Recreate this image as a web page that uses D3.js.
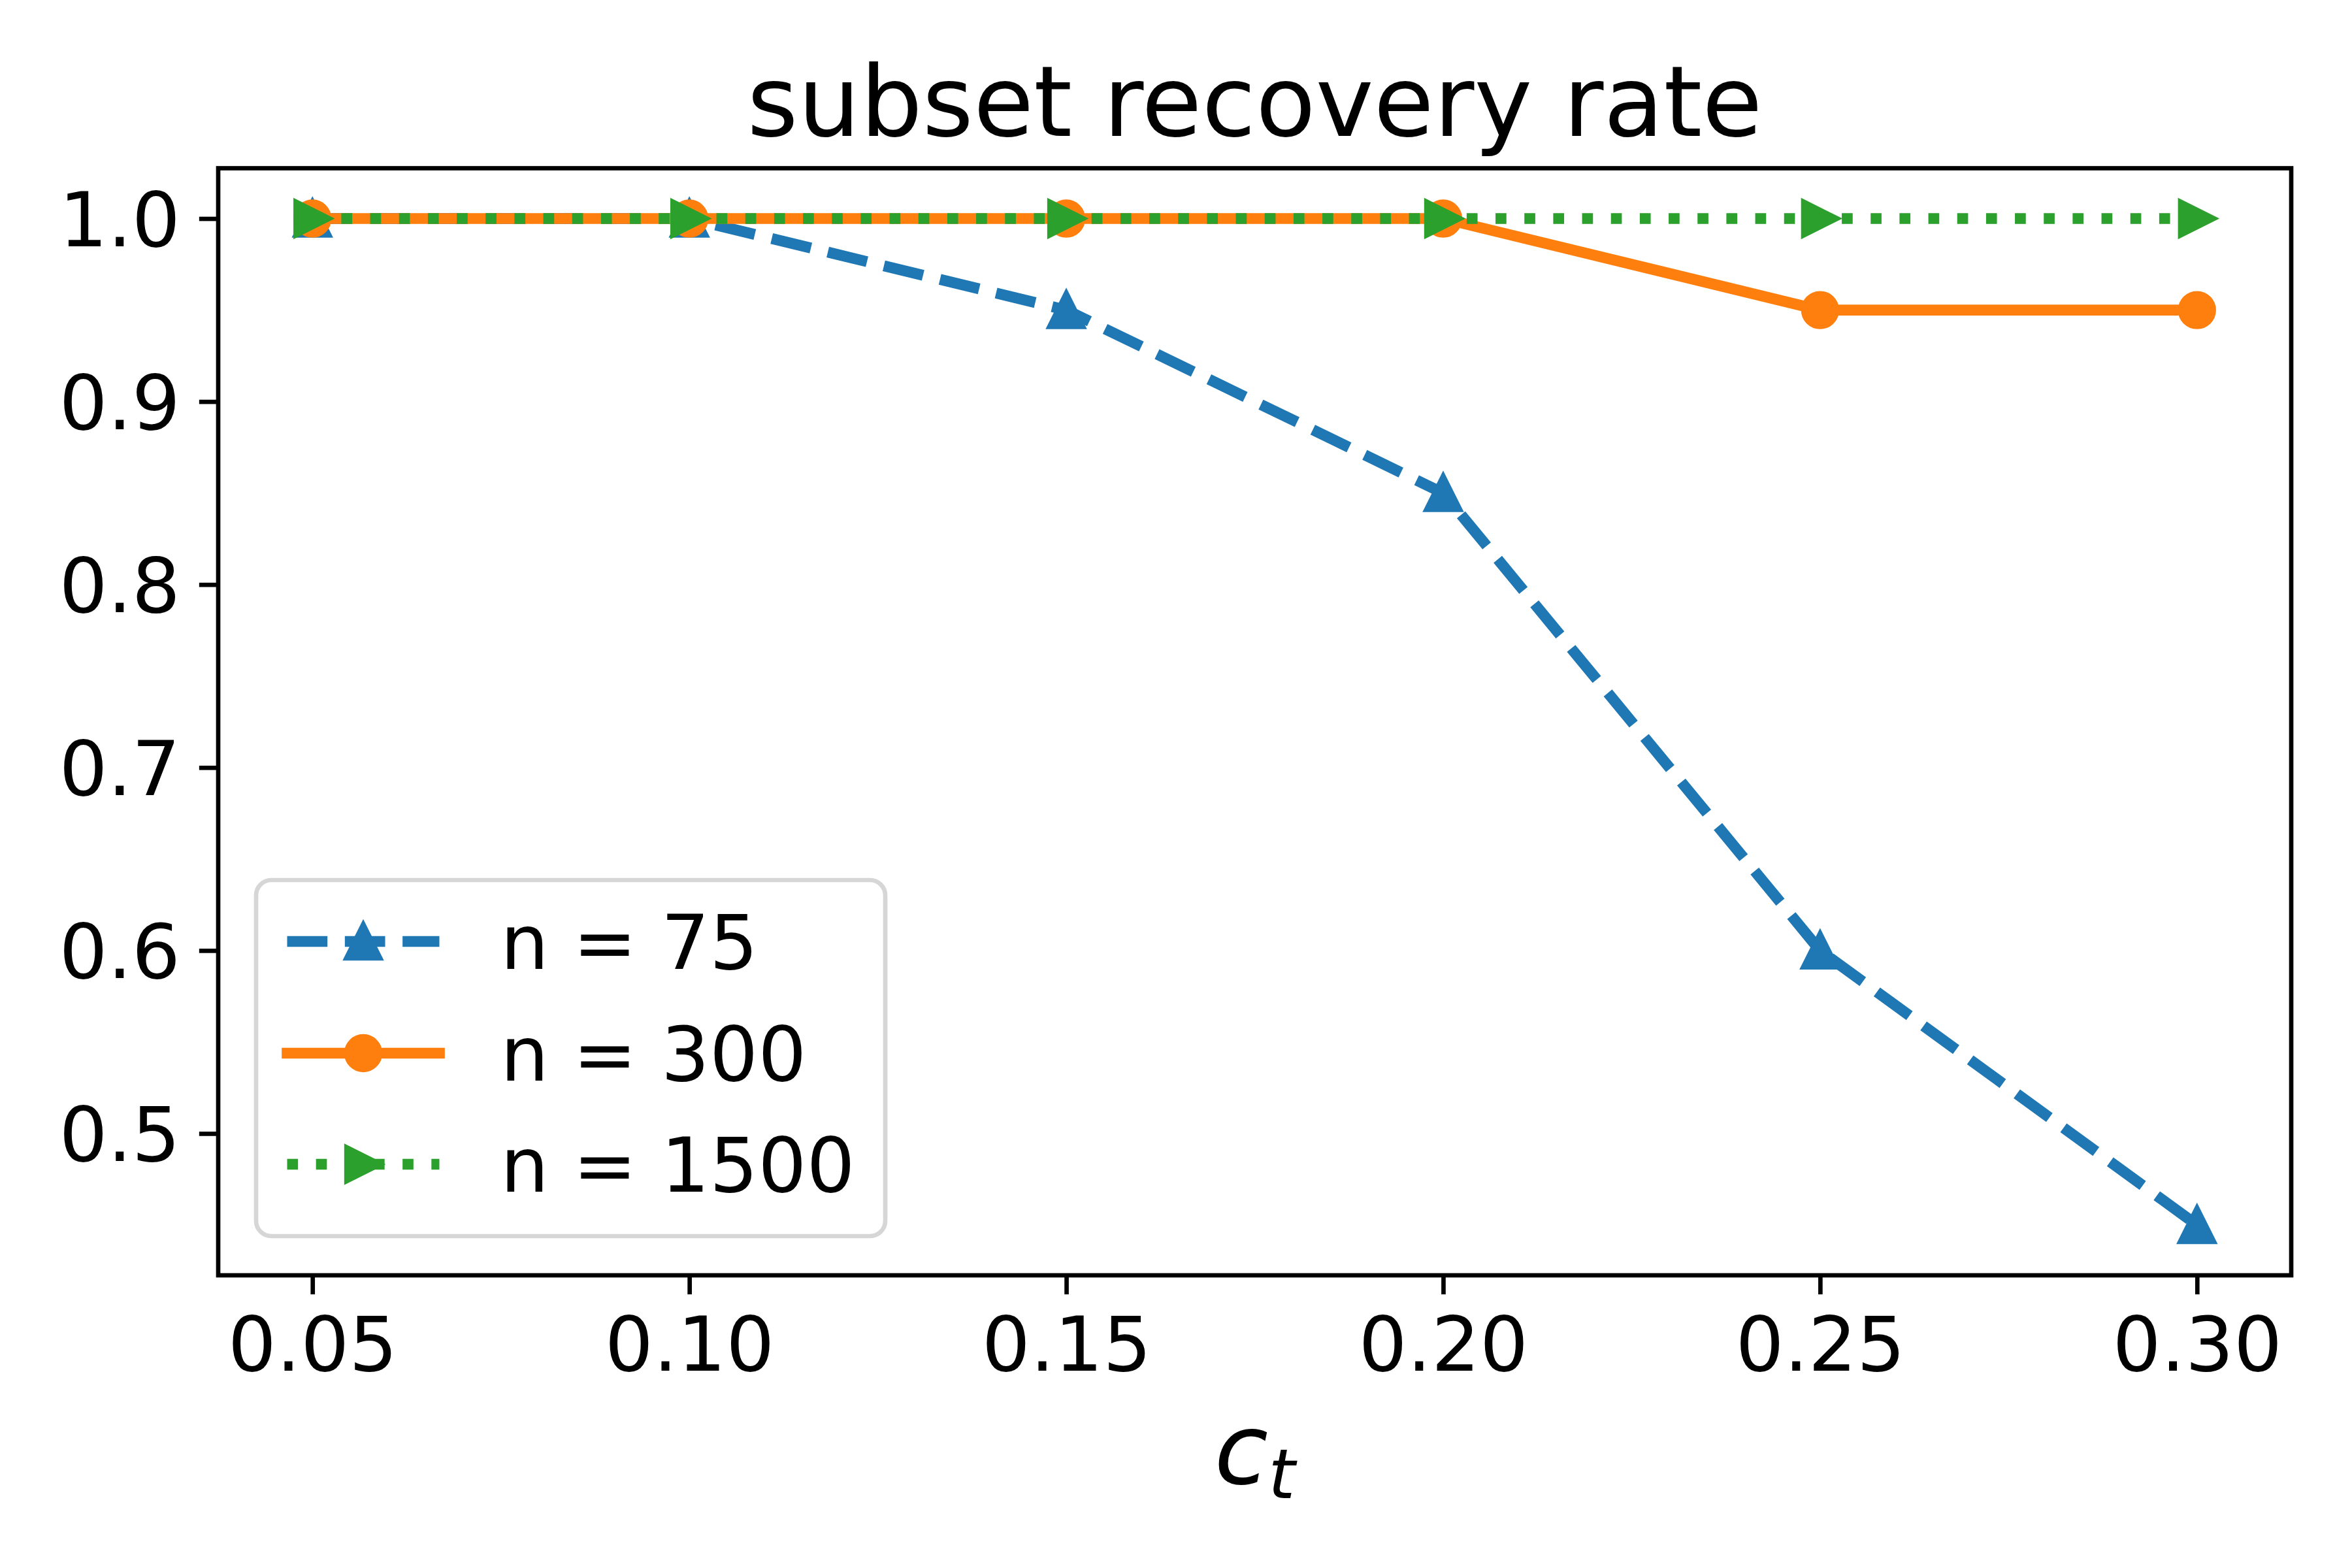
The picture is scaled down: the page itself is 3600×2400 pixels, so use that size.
<!DOCTYPE html>
<html>
<head>
<meta charset="utf-8">
<script src="https://cdn.jsdelivr.net/npm/d3@7"></script>
<style>
  html, body { margin: 0; padding: 0; background: #ffffff; }
  svg { display: block; }
  text { font-family: "DejaVu Sans", sans-serif; fill: #000; }
</style>
</head>
<body>
<svg id="chart" width="3600" height="2400"></svg>
<script>
// ---- data ----
const ctValues = [0.05, 0.10, 0.15, 0.20, 0.25, 0.30];
const rateN75 = [1.0, 1.0, 0.95, 0.85, 0.60, 0.45];
const rateN300 = [1.0, 1.0, 1.0, 1.0, 0.95, 0.95];
const rateN1500 = [1.0, 1.0, 1.0, 1.0, 1.0, 1.0];
const seriesLabels = ["n = 75", "n = 300", "n = 1500"];
const xTickLabels = ["0.05", "0.10", "0.15", "0.20", "0.25", "0.30"];
const yTickValues = [0.5, 0.6, 0.7, 0.8, 0.9, 1.0];
const yTickLabels = ["0.5", "0.6", "0.7", "0.8", "0.9", "1.0"];
const titleText = "subset recovery rate";

// ---- layout ----
const W = 3600, H = 2400;
const L = 334, R = 3507, T = 257.5, B = 1952;
const PT = 600 / 72; // px per point
const tickFont = 14 * PT;
const lw = 2 * PT;
const ms = 6 * PT;
const mew = 1 * PT;

const svg = d3.select("#chart");
svg.append("rect").attr("width", W).attr("height", H).attr("fill", "#fff");

const x = d3.scaleLinear().domain([0.0375, 0.3125]).range([L, R]);
const y = d3.scaleLinear().domain([0.4225, 1.0275]).range([B, T]);

const styles = [
  { color: "#1f77b4", dash: [3.7 * lw, 1.6 * lw], marker: "tri_up", cap: "butt" },
  { color: "#ff7f0e", dash: null, marker: "circle", cap: "square" },
  { color: "#2ca02c", dash: [1 * lw, 1.65 * lw], marker: "tri_right", cap: "butt" }
];
const seriesData = [rateN75, rateN300, rateN1500];

function markerPath(kind) {
  const h = ms / 2;
  if (kind === "tri_up") return `M0,${-h}L${-h},${h}L${h},${h}Z`;
  if (kind === "tri_right") return `M${h},0L${-h},${-h}L${-h},${h}Z`;
  return d3.symbol().type(d3.symbolCircle).size(Math.PI * h * h)();
}

// ---- axes (ticks) ----
const xAxis = d3.axisBottom(x).tickValues(ctValues)
  .tickFormat((d, i) => xTickLabels[i]).tickSize(3.5 * PT).tickPadding(3.5 * PT);
const gx = svg.append("g").attr("transform", `translate(0,${B})`).call(xAxis);
gx.select(".domain").remove();
gx.selectAll(".tick line").attr("stroke", "#000").attr("stroke-width", 0.8 * PT);
gx.selectAll(".tick text").attr("font-size", tickFont).attr("font-family", "DejaVu Sans")
  .attr("fill", "#000").attr("dy", null).attr("y", 2098 - B);

const yAxis = d3.axisLeft(y).tickValues(yTickValues)
  .tickFormat((d, i) => yTickLabels[i]).tickSize(3.5 * PT).tickPadding(3.5 * PT);
const gy = svg.append("g").attr("transform", `translate(${L},0)`).call(yAxis);
gy.select(".domain").remove();
gy.selectAll(".tick line").attr("stroke", "#000").attr("stroke-width", 0.8 * PT);
gy.selectAll(".tick text").attr("font-size", tickFont).attr("font-family", "DejaVu Sans")
  .attr("fill", "#000").attr("dy", null).attr("y", 42).attr("x", -58).attr("text-anchor", "end");

// ---- plot lines ----
const plot = svg.append("g");
const line = d3.line().x((d, i) => x(ctValues[i])).y(d => y(d));
seriesData.forEach((vals, s) => {
  const st = styles[s];
  const g = plot.append("g");
  g.append("path").attr("d", line(vals)).attr("fill", "none")
    .attr("stroke", st.color).attr("stroke-width", lw)
    .attr("stroke-linecap", st.cap).attr("stroke-linejoin", "round")
    .attr("stroke-dasharray", st.dash ? st.dash.join(",") : null);
  g.selectAll("path.m").data(vals).enter().append("path").attr("class", "m")
    .attr("d", markerPath(st.marker))
    .attr("transform", (d, i) => `translate(${x(ctValues[i])},${y(d)})`)
    .attr("fill", st.color).attr("stroke", st.color).attr("stroke-width", mew)
    .attr("stroke-linejoin", "miter");
});

// ---- spines ----
svg.append("rect").attr("x", L).attr("y", T).attr("width", R - L).attr("height", B - T)
  .attr("fill", "none").attr("stroke", "#000").attr("stroke-width", 0.8 * PT)
  .attr("stroke-linejoin", "miter");

// ---- title ----
svg.append("text").attr("x", (L + R) / 2).attr("y", 208).attr("text-anchor", "middle")
  .attr("font-size", 18 * PT).text(titleText);

// ---- x label c_t ----
const xl = svg.append("text").attr("x", (L + R) / 2).attr("y", 2271).attr("text-anchor", "middle")
  .attr("font-size", 18 * PT).attr("font-style", "italic");
xl.append("tspan").text("c");
xl.append("tspan").attr("font-size", 18 * PT * 0.7).attr("dy", 22).text("t");

// ---- legend ----
const lg = svg.append("g");
lg.append("rect").attr("x", 392).attr("y", 1347).attr("width", 1355 - 392).attr("height", 1892 - 1347)
  .attr("rx", 0.2 * tickFont).attr("ry", 0.2 * tickFont)
  .attr("fill", "#fff").attr("fill-opacity", 0.8)
  .attr("stroke", "#d6d6d6").attr("stroke-width", 0.8 * PT);
const rowY = [1441, 1612, 1782];
const hx0 = 439.5, hx1 = 672.5;
seriesLabels.forEach((lab, s) => {
  const st = styles[s];
  const yy = rowY[s];
  lg.append("line").attr("x1", hx0).attr("x2", hx1).attr("y1", yy).attr("y2", yy)
    .attr("stroke", st.color).attr("stroke-width", lw).attr("stroke-linecap", st.cap)
    .attr("stroke-dasharray", st.dash ? st.dash.join(",") : null);
  lg.append("path").attr("d", markerPath(st.marker))
    .attr("transform", `translate(${(hx0 + hx1) / 2},${yy})`)
    .attr("fill", st.color).attr("stroke", st.color).attr("stroke-width", mew)
    .attr("stroke-linejoin", "miter");
  lg.append("text").attr("x", 766).attr("y", yy + 42).attr("font-size", tickFont).text(lab);
});
</script>
</body>
</html>
